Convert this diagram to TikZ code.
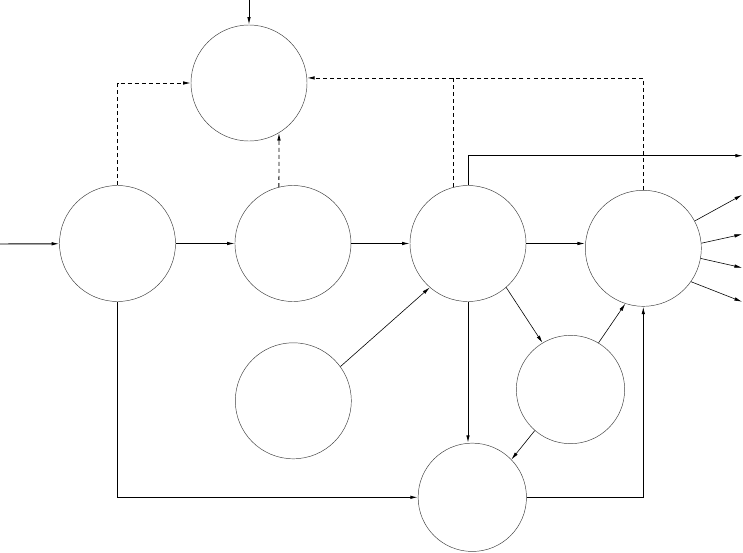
\documentclass[tikz,border=0pt]{standalone}
\usepackage{tikz}
\usetikzlibrary{positioning,arrows.meta}

\begin{document}
\begin{tikzpicture}[x=0.03cm,y=-0.03cm,
        roundnode/.style={circle, draw=black!75, line width=0.4pt, inner sep=0pt, minimum size=3.48cm},
        smallnode/.style={roundnode, minimum size=3.25cm},
        arr/.style={-{Latex[length=6.5pt,width=3pt]}, line width=0.8pt},
        thinarr/.style={-{Latex[length=6.5pt,width=3pt]}, line width=0.5pt},
        dasharr/.style={-{Latex[length=6.5pt,width=3pt]}, line width=0.7pt, dash pattern=on 3.4pt off 2.6pt},
        node distance=1.77cm]
        \useasboundingbox (0,0) rectangle (743,553);
        %Nodes
        \node[roundnode]      (u0)  at (249,83)      {};
        \node[roundnode]      (u1)  at (117.5,243.5) {};
        \node[roundnode]      (u2)  [right=of u1]    {};
        \node[roundnode]      (u3)  at (468,243.5)   {};
        \node[roundnode]      (u4)  at (643.3,248.3) {};
        \node[roundnode]      (u5)  at (293.3,400.8) {};
        \node[smallnode]      (u6)  at (570.5,389.5) {};
        \node[smallnode]      (u7)  at (472.3,497.3) {};
        %Free ends
        \coordinate (in0) at (249,0);
        \coordinate (in1) at (0,244);
        \coordinate (out0) at (743,155.7);
        \coordinate (out1) at (742,195);
        \coordinate (out2) at (742,234.3);
        \coordinate (out3) at (742,267.7);
        \coordinate (out4) at (742,301.7);
        %Lines
        \draw[arr] (in0) -- (u0);
        \draw[arr] (in1) -- (u1);
        \draw[arr] (u1) -- (u2);
        \draw[arr] (u2) -- (u3);
        \draw[arr] (u3.east) -- (u3.east -| u4.west);
        \draw[arr] (u3.north) |- (out0);
        \draw[arr] (u3.south) -- (u3.south |- u7.north);
        \draw[arr] (u1.south) |- (u7.west);
        \draw[arr] (u7.east) -| (u4.south);
        \draw[thinarr] (u5.36) -- (u3.-131);
        \draw[thinarr] (u3.-49) -- (u6.121);
        \draw[thinarr] (u6.59) -- (u4.-108);
        \draw[thinarr] (u6.-131) -- (u7.44);
        \draw[thinarr] (u4.28) -- (out1);
        \draw[thinarr] (u4.5) -- (out2);
        \draw[thinarr] (u4.-10) -- (out3);
        \draw[thinarr] (u4.-35) -- (out4);
        %Dashed lines
        \draw[dasharr] (u1.north) |- (u0.west);
        \draw[dasharr] (u2.104) -- (u0.-59);
        \draw[dasharr] (u4.north) |- (u0.5);
        \draw[line width=0.7pt, dash pattern=on 3.4pt off 2.6pt] (u3.105) -- (u3.105 |- u0.5);
    \end{tikzpicture}
\end{document}
